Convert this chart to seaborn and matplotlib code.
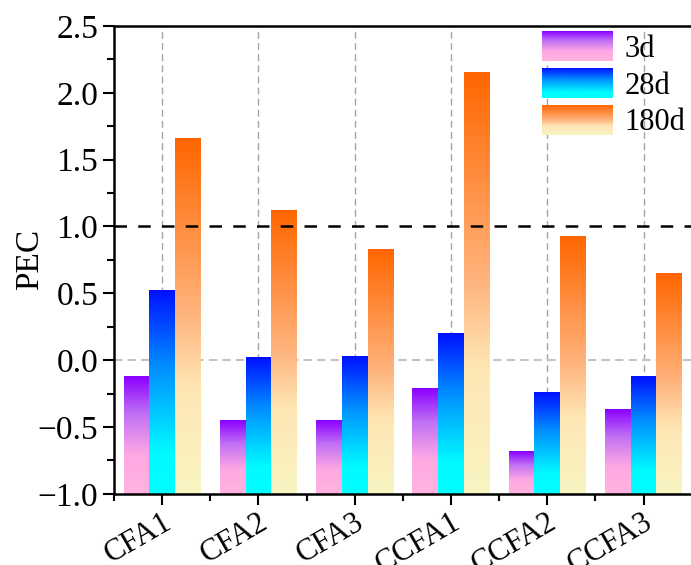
import numpy as np
import pandas as pd
import matplotlib
matplotlib.use('Agg')
import matplotlib.pyplot as plt
import seaborn as sns
from matplotlib.colors import LinearSegmentedColormap
from matplotlib.legend_handler import HandlerBase
from matplotlib.image import BboxImage
from matplotlib.transforms import Bbox, TransformedBbox
from matplotlib.patches import Patch
from matplotlib.ticker import MultipleLocator, FixedLocator

# data
samples = ['CFA1', 'CFA2', 'CFA3', 'CCFA1', 'CCFA2', 'CCFA3']
ages = ['3d', '28d', '180d']
pec_3d = [-0.12, -0.45, -0.45, -0.21, -0.68, -0.37]
pec_28d = [0.52, 0.02, 0.03, 0.20, -0.24, -0.12]
pec_180d = [1.66, 1.12, 0.83, 2.15, 0.93, 0.65]

df = pd.DataFrame({
    'sample': samples * 3,
    'age': [a for a in ages for _ in samples],
    'pec': pec_3d + pec_28d + pec_180d,
})

# gradient colormaps, bottom -> top
cmaps = {
    '3d': LinearSegmentedColormap.from_list('g3', [
        (0.0, '#FFB3DF'), (0.33, '#FFA8E4'), (0.68, '#C070F5'), (1.0, '#8A00FF')]),
    '28d': LinearSegmentedColormap.from_list('g28', [
        (0.0, '#00FFFF'), (0.2, '#00FAFF'), (0.62, '#0090FF'), (1.0, '#0010FF')]),
    '180d': LinearSegmentedColormap.from_list('g180', [
        (0.0, '#F8F5C2'), (0.3, '#FEE6B4'), (0.5, '#FFB57F'), (1.0, '#FF6600')]),
}
grad = np.linspace(0, 1, 256).reshape(-1, 1)


class GradientHandler(HandlerBase):
    def __init__(self, cmap):
        super().__init__()
        self.cmap = cmap

    def create_artists(self, legend, orig_handle, xdescent, ydescent,
                       width, height, fontsize, trans):
        bb = TransformedBbox(Bbox.from_bounds(-xdescent, -ydescent, width, height), trans)
        img = BboxImage(bb, cmap=self.cmap, interpolation='bicubic', origin='lower')
        img.set_data(grad)
        return [img]


sns.set_style('ticks')
plt.rcParams['font.family'] = ['Liberation Serif', 'DejaVu Serif']
plt.rcParams['text.color'] = 'black'
plt.rcParams['axes.labelcolor'] = 'black'
plt.rcParams['xtick.color'] = 'black'
plt.rcParams['ytick.color'] = 'black'

fig = plt.figure(figsize=(6.91, 5.65), dpi=100)
ax = fig.add_axes([0.165, 0.126, 0.836, 0.828])

sns.barplot(data=df, x='sample', y='pec', hue='age', order=samples,
            hue_order=ages, width=0.8, legend=False, ax=ax, zorder=2)

# replace each bar by a vertical gradient running from -1 up to its value
for age, cont in zip(ages, ax.containers):
    for p in cont:
        x0, w, v = p.get_x(), p.get_width(), p.get_height()
        p.set_y(-1)
        p.set_height(v + 1)
        p.set_facecolor('none')
        p.set_edgecolor('none')
        ax.imshow(grad, cmap=cmaps[age], origin='lower', aspect='auto',
                  extent=(x0, x0 + w, -1, v), interpolation='bicubic', zorder=2)

ax.set_xlim(-0.5, 5.5)
ax.set_ylim(-1.0, 2.5)

ax.yaxis.set_major_locator(MultipleLocator(0.5))
ax.yaxis.set_minor_locator(MultipleLocator(0.25))
ax.set_xticks(range(len(samples)))
ax.xaxis.set_minor_locator(FixedLocator(np.arange(-0.5, 6, 1)))

# reference lines and grid
for i in range(len(samples)):
    ax.axvline(i, color='#A4A4A4', lw=1.0, ls=(0, (5, 3)), zorder=1)
ax.axhline(0, color='#C4C4C4', lw=1.5, ls=(0, (4, 2.5)), zorder=1)
ax.axhline(1, color='black', lw=1.8, ls=(0, (5, 4.5)), zorder=3)

ax.set_xlabel('')
ax.set_ylabel('PEC', fontsize=24, color='black')
ax.yaxis.set_label_coords(-0.12, 0.5)
ax.set_xticklabels(samples, rotation=30, ha='right', va='top',
                   rotation_mode='anchor', fontsize=22, color='black')
ax.tick_params(axis='y', labelsize=24, labelcolor='black')
ax.tick_params(which='major', direction='out', length=8, width=1.5, color='black')
ax.tick_params(which='minor', direction='out', length=5, width=1.5, color='black')
ax.tick_params(axis='x', which='major', pad=2)

for s in ax.spines.values():
    s.set_linewidth(1.8)
    s.set_color('black')

handles = [Patch(label=a) for a in ages]
ax.legend(handles=handles, labels=ages,
          handler_map={h: GradientHandler(cmaps[a]) for h, a in zip(handles, ages)},
          loc='upper right', frameon=False, fontsize=22,
          handlelength=2.3, handleheight=1.1, labelspacing=0.15,
          handletextpad=0.4, borderaxespad=0.1, borderpad=0.1)

fig.savefig('out.png', dpi=100)
